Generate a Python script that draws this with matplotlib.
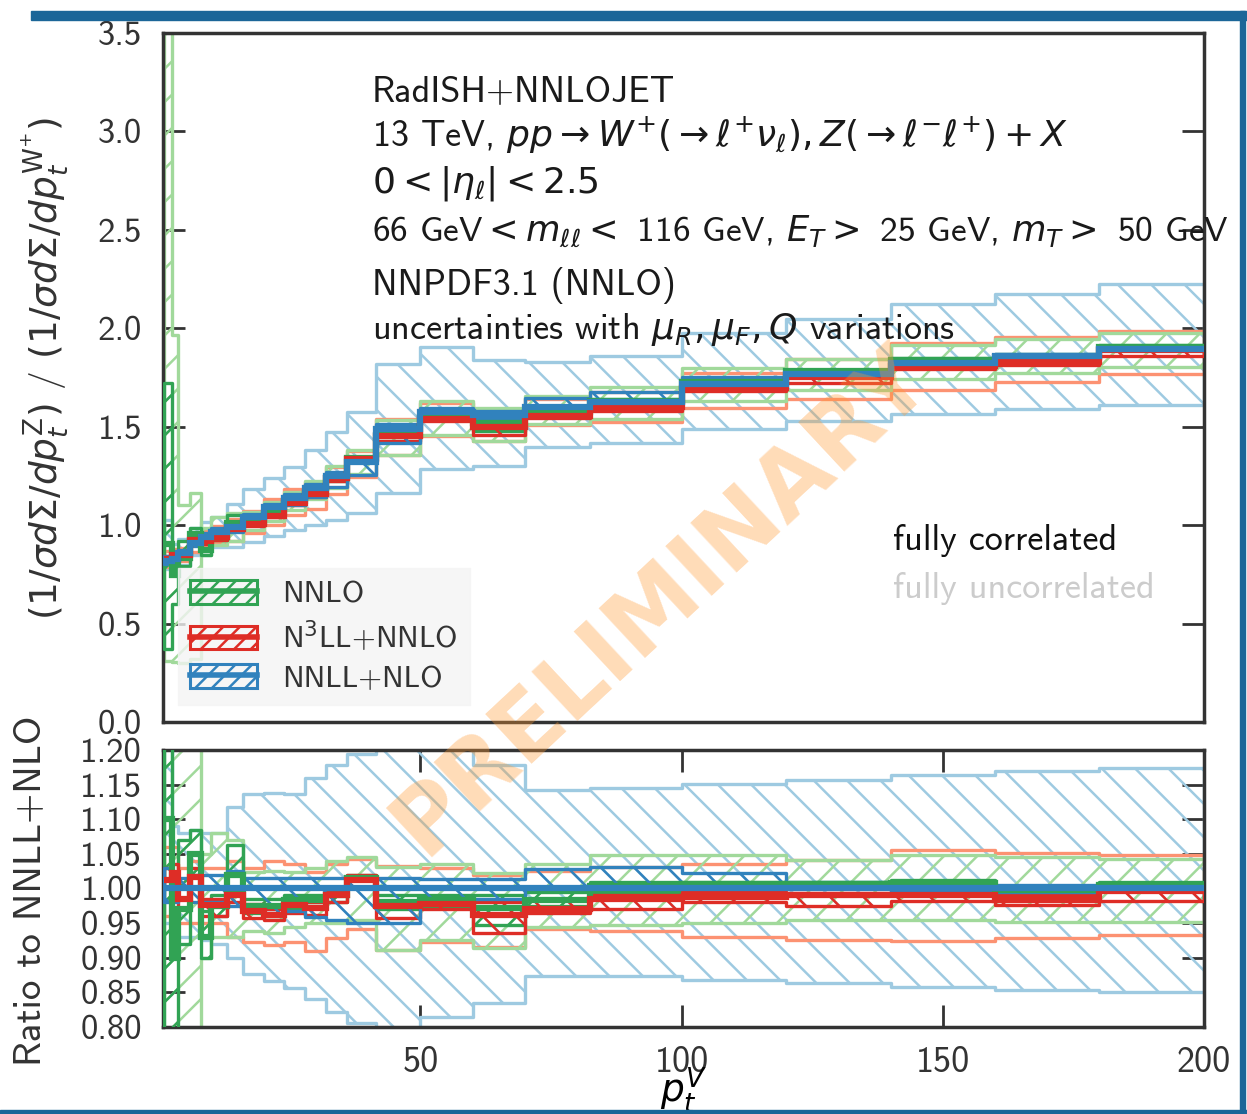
import numpy as np
import matplotlib
matplotlib.use('Agg')
import matplotlib.pyplot as plt
from matplotlib.patches import Patch, Rectangle
from matplotlib.lines import Line2D

# ---------------- data ----------------
pt_edges = [1, 2.5, 3.7, 6, 8, 10, 13, 16, 20, 24, 28, 32, 36, 41.5, 50, 60,
            70, 82.5, 100, 120, 140, 160, 180, 200]

# NNLL+NLO central value of the ratio (Z / W+), top panel
nnll_central = [0.82, 0.83, 0.86, 0.91, 0.94, 0.965, 0.99, 1.04, 1.09, 1.14, 1.19,
                1.25, 1.32, 1.49, 1.575, 1.56, 1.60, 1.625, 1.715, 1.77, 1.825,
                1.86, 1.895]
# NNLL+NLO bands, relative to NNLL+NLO central
nnll_corr_lo = [0.98, 0.98, 0.985, 0.98, 0.98, 0.98, 0.975, 0.97, 0.965, 0.967, 0.959,
                0.955, 0.95, 0.95, 0.985, 0.985, 1.0, 1.0, 1.0, 1.0, 0.995, 0.995, 0.996]
nnll_corr_hi = [1.03, 1.02, 1.015, 1.02, 1.02, 1.02, 1.025, 1.015, 1.015, 1.015, 1.015,
                1.015, 1.015, 1.015, 1.013, 1.013, 1.028, 1.031, 1.022, 1.01, 1.005,
                1.005, 1.006]
nnll_unc_lo = [0.95, 0.93, 0.93, 0.93, 0.925, 0.92, 0.90, 0.877, 0.866, 0.856, 0.841,
               0.822, 0.806, 0.78, 0.815, 0.835, 0.874, 0.873, 0.868, 0.863, 0.858,
               0.854, 0.850]
nnll_unc_hi = [1.25, 1.09, 1.08, 1.085, 1.08, 1.08, 1.118, 1.137, 1.138, 1.137, 1.159,
               1.178, 1.194, 1.22, 1.21, 1.178, 1.142, 1.145, 1.151, 1.157, 1.164,
               1.169, 1.174]

# N3LL+NNLO, ratio to NNLL+NLO
n3ll_ratio = [1.012, 1.022, 0.985, 1.017, 0.976, 0.976, 0.99, 0.968, 0.962, 0.976, 0.972,
              0.99, 1.012, 0.974, 0.978, 0.962, 0.97, 0.985, 0.988, 0.99, 0.99, 0.984,
              0.996]
n3ll_corr_lo = [1.0, 1.005, 0.97, 1.0, 0.96, 0.96, 0.98, 0.958, 0.955, 0.965, 0.962,
                0.98, 1.0, 0.957, 0.97, 0.935, 0.965, 0.971, 0.98, 0.974, 0.982, 0.976,
                0.982]
n3ll_corr_hi = [1.03, 1.035, 1.0, 1.03, 0.985, 0.985, 1.0, 0.978, 0.97, 0.985, 0.98,
                0.998, 1.02, 0.978, 0.985, 0.981, 0.985, 0.99, 0.995, 0.994, 0.995,
                0.99, 1.007]
n3ll_unc_lo = [0.96, 0.97, 0.95, 0.95, 0.95, 0.95, 0.93, 0.923, 0.918, 0.923, 0.909,
               0.928, 0.942, 0.911, 0.923, 0.916, 0.942, 0.938, 0.93, 0.926, 0.924,
               0.929, 0.933]
n3ll_unc_hi = [1.06, 1.06, 1.03, 1.04, 1.03, 1.03, 1.04, 1.03, 1.04, 1.036, 1.024,
               1.036, 1.043, 1.033, 1.03, 1.02, 1.025, 1.031, 1.035, 1.041, 1.056,
               1.051, 1.048]

# NNLO, ratio to NNLL+NLO
nnlo_ratio = [1.10, 0.90, 0.97, 1.05, 0.93, 0.975, 1.02, 0.975, 0.975, 0.983, 0.983,
              0.99, 1.015, 0.98, 0.983, 0.972, 0.983, 1.004, 1.006, 1.006, 1.008, 0.998,
              1.005]
nnlo_corr_lo = [0.45, 0.72, 0.92, 1.02, 0.90, 0.96, 0.995, 0.965, 0.96, 0.97, 0.975,
                0.98, 1.0, 0.97, 0.975, 0.947, 0.975, 0.995, 1.0, 1.0, 1.0, 0.99, 0.998]
nnlo_corr_hi = [2.10, 1.0, 1.07, 1.085, 0.967, 0.99, 1.063, 0.985, 0.985, 0.99, 0.99,
                0.998, 1.02, 0.99, 0.99, 0.99, 0.995, 1.01, 1.01, 1.01, 1.012, 1.004,
                1.01]
nnlo_unc_lo = [0.38, 0.37, 0.35, 0.35, 0.90, 0.93, 0.93, 0.938, 0.935, 0.945, 0.95,
               0.95, 0.955, 0.911, 0.925, 0.914, 0.945, 0.947, 0.95, 0.954, 0.954,
               0.952, 0.952]
nnlo_unc_hi = [5.0, 2.37, 1.28, 1.28, 1.05, 1.08, 1.07, 1.024, 1.025, 1.024, 1.03,
               1.04, 1.045, 1.031, 1.035, 1.022, 1.036, 1.048, 1.048, 1.041, 1.048,
               1.046, 1.043]

series_labels = ['NNLO', r'N$^3$LL+NNLO', 'NNLL+NLO']
x_ticks = [50, 100, 150, 200]
top_yticks = [0.0, 0.5, 1.0, 1.5, 2.0, 2.5, 3.0, 3.5]
ratio_yticks = [0.80, 0.85, 0.90, 0.95, 1.00, 1.05, 1.10, 1.15, 1.20]

# ---------------- style ----------------
plt.rcParams['font.family'] = ['cmss10', 'DejaVu Sans']
plt.rcParams['mathtext.fontset'] = 'dejavusans'
plt.rcParams['axes.unicode_minus'] = False
plt.rcParams['axes.formatter.use_mathtext'] = True
plt.rcParams['hatch.linewidth'] = 1.8

C_GREEN, C_GREEN_L = '#31a354', '#a1d99b'
C_RED, C_RED_L = '#de2d26', '#fc9272'
C_BLUE, C_BLUE_L = '#3182bd', '#9ecae1'

fig = plt.figure(figsize=(12.47, 11.14), dpi=100)
fig.patch.set_facecolor('white')
ax = fig.add_axes([0.1307, 0.3519, 0.8348, 0.6185])
axr = fig.add_axes([0.1307, 0.0781, 0.8348, 0.2487])

edges = np.array(pt_edges)
cen = np.array(nnll_central)


def ext(a):
    a = np.asarray(a, dtype=float)
    return np.append(a, a[-1])


def band(axis, lo, hi, color, hatch, lw, z):
    with plt.rc_context({'hatch.color': color}):
        axis.fill_between(edges, ext(lo), ext(hi), step='post', facecolor='none',
                          edgecolor=color, hatch=hatch, linewidth=lw, zorder=z)


def draw(axis, scale):
    s = np.asarray(scale)
    # wide (uncorrelated) bands
    band(axis, np.array(nnll_unc_lo) * s, np.array(nnll_unc_hi) * s, C_BLUE_L, '\\', 2.4, 2)
    band(axis, np.array(n3ll_unc_lo) * s, np.array(n3ll_unc_hi) * s, C_RED_L, '', 2.4, 2.1)
    band(axis, np.array(nnlo_unc_lo) * s, np.array(nnlo_unc_hi) * s, C_GREEN_L, '/', 2.4, 2.2)
    # correlated bands
    band(axis, np.array(nnlo_corr_lo) * s, np.array(nnlo_corr_hi) * s, C_GREEN, '/', 2.4, 3)
    band(axis, np.array(n3ll_corr_lo) * s, np.array(n3ll_corr_hi) * s, C_RED, '\\', 2.4, 3.1)
    band(axis, np.array(nnll_corr_lo) * s, np.array(nnll_corr_hi) * s, C_BLUE, '\\', 2.4, 3.2)
    # central lines
    axis.stairs(np.array(nnlo_ratio) * s, edges, baseline=None, color=C_GREEN, lw=4.5, zorder=4)
    axis.stairs(np.array(n3ll_ratio) * s, edges, baseline=None, color=C_RED, lw=4.5, zorder=4.1)
    axis.stairs(np.ones(len(cen)) * s, edges, baseline=None, color=C_BLUE, lw=4.5, zorder=4.2)


draw(ax, cen)
draw(axr, np.ones(len(cen)))

for a in (ax, axr):
    a.set_xlim(0.75, 200)
    for sp in a.spines.values():
        sp.set_color('#333333')
        sp.set_linewidth(2.5)
    a.tick_params(axis='y', which='major', direction='in', length=16, width=2,
                  color='#333333', left=True, right=True, labelsize=25, pad=15,
                  labelcolor='#333333')

ax.set_ylim(0, 3.5)
ax.set_yticks(top_yticks)
ax.set_yticklabels([f'{v:.1f}' for v in top_yticks])
ax.set_xticks([])

axr.set_ylim(0.8, 1.2)
axr.set_yticks(ratio_yticks)
axr.set_yticklabels([f'{v:.2f}' for v in ratio_yticks])
axr.set_xticks(x_ticks)
axr.set_xticklabels([str(v) for v in x_ticks])
axr.tick_params(axis='x', direction='in', length=16, width=2, color='#333333',
                top=True, bottom=True, labelsize=26, pad=14, labelcolor='#333333')
axr.set_xlabel(r'$p_t^V$', fontsize=27, labelpad=-10)

# texts
lines = ['RadISH+NNLOJET',
         r'13 TeV, $pp \to W^{+}(\to \ell^{+}\nu_{\ell}),Z(\to \ell^{-}\ell^{+}) + X$',
         r'$0 < |\eta_\ell| < 2.5$',
         r'66 GeV$< m_{\ell\ell} <$ 116 GeV, $E_T >$ 25 GeV, $m_T >$ 50 GeV',
         'NNPDF3.1 (NNLO)',
         r'uncertainties with $\mu_R, \mu_F, Q$ variations']
sizes = [26, 26, 26, 25.5, 26, 26]
ys = [0.914, 0.852, 0.782, 0.713, 0.634, 0.570]
for t, y, fs in zip(lines, ys, sizes):
    ax.text(0.2008, y, t, transform=ax.transAxes, fontsize=fs, va='center',
            ha='left', color='#1a1a1a', zorder=10, clip_on=False)

ax.text(0.701, 0.264, 'fully correlated', transform=ax.transAxes, fontsize=26,
        va='center', color='#111111', zorder=10)
ax.text(0.701, 0.194, 'fully uncorrelated', transform=ax.transAxes, fontsize=26,
        va='center', color='#cccccc', zorder=10)

# legend
handles = []
for dark in (C_GREEN, C_RED, C_BLUE):
    p = Patch(facecolor='none', edgecolor=dark, hatch='//', linewidth=2.2)
    l = Line2D([], [], color=dark, lw=4)
    handles.append((p, l))
leg = ax.legend(handles, series_labels, loc='lower left', bbox_to_anchor=(0.0144, 0.025),
                borderaxespad=0, fontsize=22, frameon=True, handlelength=2.2,
                handleheight=0.8, handletextpad=0.8, labelspacing=0.33, borderpad=0.4,
                fancybox=False)
leg.get_frame().set_facecolor('#f4f4f4')
leg.get_frame().set_edgecolor('#f4f4f4')
leg.set_zorder(9)
for t in leg.get_texts():
    t.set_color('#333333')

# axis labels
fig.text(0.036, 0.669,
         r'$(1/\sigma d\Sigma/dp_t^{\mathrm{Z}})$ / $(1/\sigma d\Sigma/dp_t^{\mathrm{W}^{+}})$',
         rotation=90, fontsize=27, ha='center', va='center', color='#333333')
fig.text(0.025, 0.200, 'Ratio to NNLL+NLO', rotation=90, fontsize=28,
         ha='center', va='center', color='#333333')

# watermark
fig.text(0.53, 0.462, 'PRELIMINARY', rotation=43, fontsize=66, fontweight='bold',
         family='DejaVu Sans', color='#ff9a33', alpha=0.35, ha='center', va='center',
         zorder=20)

# slide frame decoration
fig.patches.append(Rectangle((0.025, 0.982), 0.975, 0.008, transform=fig.transFigure,
                             color='#1b6698', zorder=0))
fig.patches.append(Rectangle((0.994, 0.0), 0.004, 0.99, transform=fig.transFigure,
                             color='#1b6698', zorder=0))
fig.patches.append(Rectangle((0.0, 0.0), 1.0, 0.004, transform=fig.transFigure,
                             color='#1b6698', zorder=0))

fig.savefig('out.png', dpi=100)
